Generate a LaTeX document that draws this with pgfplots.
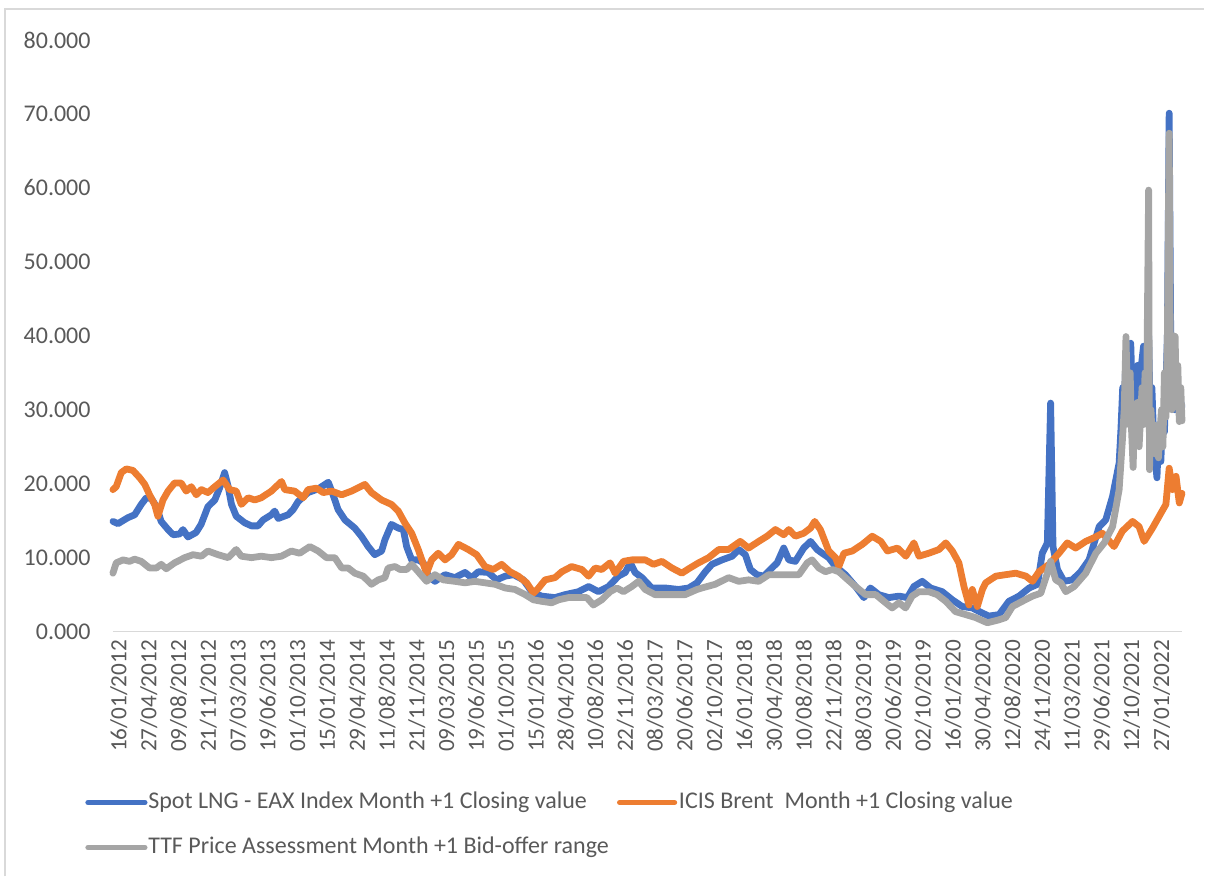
\documentclass[border=0pt]{standalone}
\usepackage{fontspec}
\setmainfont{Carlito}
\usepackage{pgfplots}
\pgfplotsset{compat=1.18}
\definecolor{lngblue}{HTML}{4472C4}
\definecolor{brentorange}{HTML}{ED7D31}
\definecolor{ttfgray}{HTML}{A5A5A5}
\definecolor{labelgray}{HTML}{595959}
\definecolor{rulegray}{HTML}{D9D9D9}

\begin{document}
\fontsize{12}{14}\selectfont
\begin{tikzpicture}
\path (0,0) rectangle (602.5pt,438.5pt);
% chart frame (left and top edges visible)
\draw[rulegray, line width=0.75pt] (2.5pt,0) -- (2.5pt,434pt) -- (602.5pt,434pt);
\begin{axis}[
  at={(56.5pt,122.5pt)}, anchor=south west,
  scale only axis, width=535pt, height=296pt,
  xmin=0, xmax=35.9, ymin=0, ymax=80,
  axis x line=bottom, axis y line=left,
  x axis line style={-, draw=rulegray, line width=0.75pt},
  y axis line style={-, draw=none},
  major tick length=0pt,
  ytick={0,10,...,80},
  xtick={0,...,35},
  xticklabels={16/01/2012,27/04/2012,09/08/2012,21/11/2012,07/03/2013,19/06/2013,
    01/10/2013,15/01/2014,29/04/2014,11/08/2014,21/11/2014,09/03/2015,19/06/2015,
    01/10/2015,15/01/2016,28/04/2016,10/08/2016,22/11/2016,08/03/2017,20/06/2017,
    02/10/2017,16/01/2018,30/04/2018,10/08/2018,22/11/2018,08/03/2019,20/06/2019,
    02/10/2019,16/01/2020,30/04/2020,12/08/2020,24/11/2020,11/03/2021,29/06/2021,
    12/10/2021,27/01/2022},
  ticklabel style={text=labelgray},
  /pgf/number format/assume math mode=true,
  yticklabel style={font=\fontsize{12}{14}\selectfont, xshift=-7pt,
    /pgf/number format/fixed,
    /pgf/number format/fixed zerofill, /pgf/number format/precision=3},
  xticklabel style={font=\fontsize{11.6}{13}\selectfont, rotate=90, anchor=east, yshift=-3pt},
  clip=false,
  every axis plot/.append style={line width=3.4pt, line join=round, line cap=round},
]
% Spot LNG - EAX Index Month +1 Closing value
\addplot[lngblue] coordinates {
(0,14.9)(0.17,14.6)(0.5,15.4)(0.73,15.8)(0.95,17.2)(1.12,18.1)(1.29,18.0)(1.46,16.9)
(1.62,14.9)(1.85,13.8)(2.02,13.1)(2.24,13.2)(2.35,13.8)(2.52,12.8)(2.79,13.4)(2.96,14.5)
(3.19,16.9)(3.42,17.8)(3.58,19.4)(3.75,21.5)(3.87,19.6)(3.98,17.2)(4.14,15.6)(4.43,14.7)
(4.65,14.3)(4.87,14.3)(5.04,15.1)(5.32,15.8)(5.43,16.3)(5.55,15.3)(5.88,15.8)(6.05,16.5)
(6.22,17.6)(6.55,18.8)(6.89,19.3)(7.12,19.9)(7.23,20.2)(7.39,18.5)(7.56,16.5)(7.79,15.1)
(8.12,14.0)(8.34,12.9)(8.57,11.5)(8.79,10.4)(9.02,10.9)(9.13,12.4)(9.35,14.5)(9.58,14.0)
(9.75,13.8)(9.86,11.5)(10.03,9.7)(10.25,9.7)(10.42,9.3)(10.59,7.5)(10.81,6.8)(11.15,7.7)
(11.48,7.3)(11.82,8.0)(12.04,7.3)(12.27,8.1)(12.6,8.0)(12.88,7.0)(13.17,7.5)(13.45,7.7)
(13.78,7.0)(14.06,5.4)(14.39,4.8)(14.84,4.6)(15.18,5.0)(15.63,5.4)(15.97,6.1)(16.3,5.4)
(16.64,6.1)(16.97,7.5)(17.2,8.0)(17.37,9.3)(17.53,8.0)(17.76,7.3)(18.09,5.9)(18.54,5.9)
(18.99,5.7)(19.33,5.9)(19.61,6.6)(19.89,8.1)(20.11,9.1)(20.45,9.7)(20.79,10.2)(21.01,11.1)
(21.23,10.4)(21.4,8.4)(21.62,7.7)(21.85,7.5)(22.07,8.4)(22.3,9.3)(22.52,11.3)(22.69,9.7)
(22.91,9.5)(23.19,11.3)(23.42,12.2)(23.64,11.1)(23.81,10.6)(24.03,10.0)(24.26,8.8)(24.59,7.7)
(24.93,6.1)(25.21,4.6)(25.43,5.9)(25.71,5.0)(26.05,4.6)(26.39,4.8)(26.67,4.6)(26.89,6.1)
(27.17,6.8)(27.45,5.9)(27.84,5.4)(28.18,4.3)(28.51,3.4)(28.85,3.2)(29.19,2.5)(29.41,2.1)
(29.75,2.3)(30.08,4.1)(30.42,4.8)(30.76,5.9)(31.04,6.4)(31.2,10.6)(31.37,12.0)(31.48,30.9)
(31.56,11.5)(31.71,8.4)(31.93,6.8)(32.21,7.0)(32.49,8.1)(32.77,9.7)(33.11,14.2)(33.33,15.1)
(33.56,18.3)(33.78,22.8)(33.84,27.3)(33.90,33)(33.95,30)(34.00,36)(34.05,29)(34.10,33)
(34.17,39.0)(34.22,32)(34.28,28)(34.33,34)(34.40,36)(34.45,30)(34.50,35)(34.60,38.6)
(34.65,33)(34.70,37)(34.77,40)(34.82,30)(34.88,33)(34.95,25)(35.05,20.8)(35.10,26)
(35.18,23)(35.25,30)(35.30,27)(35.35,33)(35.40,40)(35.46,70.1)(35.52,35)(35.58,38)
(35.65,30)(35.72,35)(35.78,31)(35.85,31)(35.89,30.5)
};
% ICIS Brent Month +1 Closing value
\addplot[brentorange] coordinates {
(0,19.2)(0.11,19.6)(0.28,21.5)(0.45,22.0)(0.67,21.8)(0.9,20.8)(1.07,19.9)(1.23,18.5)
(1.4,17.2)(1.51,15.6)(1.68,17.8)(1.85,19.0)(2.07,20.1)(2.29,20.1)(2.46,19.0)(2.63,19.6)
(2.8,18.5)(2.97,19.2)(3.19,18.8)(3.42,19.6)(3.7,20.5)(3.92,19.2)(4.14,19.0)(4.31,17.2)
(4.54,18.1)(4.76,17.8)(4.98,18.1)(5.32,19.0)(5.66,20.3)(5.77,19.2)(6.1,19.0)(6.39,18.1)
(6.55,19.2)(6.83,19.4)(7.06,18.8)(7.34,19.0)(7.68,18.5)(8.01,19.0)(8.46,19.9)(8.68,18.8)
(9.02,17.8)(9.35,17.2)(9.58,16.3)(9.8,14.7)(10.03,13.3)(10.25,11.1)(10.53,7.9)(10.7,9.7)
(10.92,10.6)(11.15,9.7)(11.37,10.4)(11.6,11.8)(11.93,11.1)(12.21,10.4)(12.49,8.8)(12.77,8.4)
(13.05,9.1)(13.33,8.1)(13.61,7.5)(13.89,6.6)(14.12,5.2)(14.29,5.9)(14.51,7.0)(14.84,7.3)
(15.07,8.1)(15.4,8.8)(15.74,8.4)(15.97,7.5)(16.19,8.6)(16.41,8.4)(16.69,9.3)(16.86,7.9)
(17.14,9.5)(17.42,9.7)(17.87,9.7)(18.15,9.1)(18.43,9.5)(18.77,8.6)(19.1,7.9)(19.33,8.5)
(19.66,9.3)(20.0,10.0)(20.34,11.1)(20.67,11.1)(21.06,12.2)(21.34,11.3)(21.68,12.2)(21.96,12.9)
(22.24,13.8)(22.52,13.1)(22.69,13.8)(22.91,12.9)(23.19,13.3)(23.42,14.0)(23.56,14.9)(23.75,13.8)
(24.03,10.9)(24.26,10.0)(24.37,8.8)(24.54,10.6)(24.82,10.9)(25.16,11.8)(25.49,12.9)(25.78,12.2)
(26.0,10.9)(26.34,11.3)(26.62,10.2)(26.89,12.0)(27.06,10.2)(27.39,10.6)(27.73,11.1)(27.96,12.0)
(28.18,10.9)(28.4,9.3)(28.57,6.1)(28.74,3.6)(28.85,5.7)(29.02,3.4)(29.19,5.7)(29.3,6.6)
(29.64,7.5)(29.97,7.7)(30.31,7.9)(30.65,7.5)(30.87,6.8)(31.09,8.1)(31.43,9.1)(31.76,10.6)
(32.04,12.0)(32.32,11.3)(32.66,12.2)(32.94,12.7)(33.22,13.3)(33.61,11.5)(33.89,13.6)(34.23,14.9)
(34.45,14.2)(34.62,12.2)(34.9,14.0)(35.18,16.0)(35.35,17.2)(35.46,22.1)(35.57,19.2)(35.69,21.0)
(35.8,17.4)(35.89,18.7)
};
% TTF Price Assessment Month +1 Bid-offer range
\addplot[ttfgray] coordinates {
(0,7.9)(0.11,9.3)(0.34,9.7)(0.56,9.5)(0.73,9.8)(0.95,9.5)(1.23,8.6)(1.46,8.6)
(1.62,9.1)(1.79,8.5)(2.07,9.3)(2.41,10.0)(2.69,10.4)(2.97,10.2)(3.19,10.9)(3.53,10.4)
(3.87,10.0)(4.14,11.1)(4.31,10.2)(4.65,10.0)(4.98,10.2)(5.32,10.0)(5.66,10.2)(5.99,10.9)
(6.27,10.6)(6.61,11.5)(6.89,10.9)(7.17,10.0)(7.45,10.0)(7.68,8.6)(7.9,8.6)(8.12,7.9)
(8.4,7.5)(8.68,6.4)(8.91,7.0)(9.13,7.3)(9.24,8.6)(9.47,8.8)(9.64,8.4)(9.86,8.4)
(10.03,9.1)(10.25,8.1)(10.53,6.8)(10.81,7.7)(11.09,7.0)(11.48,6.8)(11.82,6.6)(12.15,6.8)
(12.49,6.6)(12.83,6.4)(13.17,5.9)(13.5,5.7)(13.84,5.0)(14.12,4.3)(14.39,4.1)(14.73,3.9)
(14.96,4.3)(15.29,4.6)(15.63,4.6)(15.91,4.6)(16.13,3.6)(16.41,4.3)(16.69,5.4)(16.92,5.9)
(17.14,5.4)(17.42,6.1)(17.65,6.8)(17.87,5.7)(18.2,5.0)(18.54,5.0)(18.88,5.0)(19.21,5.0)
(19.61,5.7)(19.77,5.9)(20.22,6.4)(20.67,7.3)(21.01,6.8)(21.34,7.0)(21.68,6.8)(22.02,7.7)
(22.35,7.7)(22.69,7.7)(23.03,7.7)(23.31,9.3)(23.47,9.7)(23.7,8.6)(23.92,8.1)(24.15,8.4)
(24.37,8.1)(24.59,7.3)(24.93,6.1)(25.27,5.0)(25.61,5.0)(25.94,3.9)(26.16,3.2)(26.39,3.9)
(26.61,3.2)(26.83,4.8)(27.06,5.4)(27.39,5.4)(27.67,5.0)(27.96,4.1)(28.29,2.7)(28.63,2.3)
(28.96,1.9)(29.24,1.4)(29.36,1.2)(29.75,1.6)(29.97,1.9)(30.2,3.4)(30.53,4.1)(30.87,4.8)
(31.15,5.2)(31.37,7.9)(31.48,9.5)(31.65,7.0)(31.82,6.6)(31.99,5.4)(32.27,6.1)(32.66,7.9)
(33.0,10.6)(33.28,12.0)(33.56,14.2)(33.78,19.2)(33.89,25.9)(33.95,30)(34.01,39.9)(34.05,33)
(34.10,28)(34.15,35)(34.20,27)(34.25,22.2)(34.30,30)(34.35,27)(34.40,31)(34.45,25)
(34.50,29)(34.55,33)(34.60,28)(34.65,35)(34.70,30)(34.77,59.7)(34.80,21.9)(34.85,30)
(34.90,25)(34.95,28)(35.00,24)(35.05,27)(35.10,23.5)(35.15,27)(35.20,30)(35.25,25)
(35.30,35)(35.35,29)(35.40,40)(35.46,67.4)(35.50,36)(35.55,30)(35.60,40)(35.66,39.9)
(35.70,31)(35.75,36)(35.80,28.4)(35.85,33)(35.89,28.5)
};
\end{axis}
% legend
\draw[lngblue, line width=2.6pt, line cap=round] (44pt,37pt) -- (72.5pt,37pt);
\node[anchor=west, text=labelgray, inner sep=0pt] at (74pt,37pt) {Spot LNG - EAX Index Month +1 Closing value};
\draw[brentorange, line width=2.6pt, line cap=round] (310pt,37pt) -- (337.5pt,37pt);
\node[anchor=west, text=labelgray, inner sep=0pt] at (339.5pt,37pt) {ICIS Brent\ \ Month +1 Closing value};
\draw[ttfgray, line width=2.6pt, line cap=round] (44pt,14.5pt) -- (72.5pt,14.5pt);
\node[anchor=west, text=labelgray, inner sep=0pt] at (74pt,14.5pt) {TTF Price Assessment Month +1 Bid-offer range};
\end{tikzpicture}
\end{document}
